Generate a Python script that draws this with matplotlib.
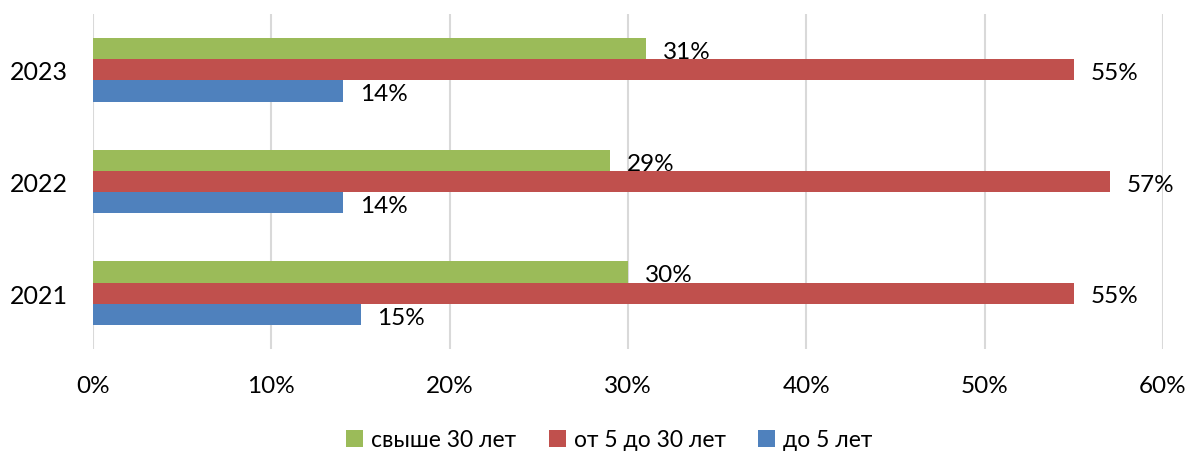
import numpy as np
import matplotlib.pyplot as plt

plt.rcParams['font.family'] = ['Lato', 'DejaVu Sans']

years = ['2021', '2022', '2023']
over_30 = [30, 29, 31]
from_5_to_30 = [55, 57, 55]
under_5 = [15, 14, 14]

series = [
    ('свыше 30 лет', over_30, '#9BBB59'),
    ('от 5 до 30 лет', from_5_to_30, '#C0504D'),
    ('до 5 лет', under_5, '#4F81BD'),
]

fig = plt.figure(figsize=(11.9, 4.52), dpi=100)
ax = fig.add_axes([93 / 1190, 1 - 350 / 452, 1070 / 1190, 335 / 452])

y = np.arange(len(years))
h = 0.19
offsets = [h, 0, -h]

for (name, vals, color), off in zip(series, offsets):
    bars = ax.barh(y + off, vals, height=h, color=color, label=name, zorder=2)
    for b, v in zip(bars, vals):
        ax.text(b.get_width() + 0.95, b.get_y() + b.get_height() / 2 - 0.025,
                f'{v}%', va='center', ha='left', fontsize=17.5, color='black')

ax.set_xlim(0, 60)
ax.set_ylim(-0.5, 2.5)
ax.set_xticks(np.arange(0, 61, 10))
ax.set_xticklabels([f'{t}%' for t in range(0, 61, 10)], fontsize=17.5)
ax.set_yticks(y)
ax.set_yticklabels(years, fontsize=18)
ax.tick_params(length=0)
ax.tick_params(axis='x', pad=19)
ax.tick_params(axis='y', pad=18)
ax.grid(axis='x', color='#D9D9D9', linewidth=1.5, zorder=0)
for s in ax.spines.values():
    s.set_visible(False)

handles, labels = ax.get_legend_handles_labels()
fig.legend(handles, labels, loc='center', bbox_to_anchor=(0.512, 1 - 441 / 452),
           ncol=3, frameon=False, fontsize=16.5, handlelength=0.75, handleheight=0.75,
           handletextpad=0.35, columnspacing=1.4)

fig.savefig('out.png', dpi=100)
